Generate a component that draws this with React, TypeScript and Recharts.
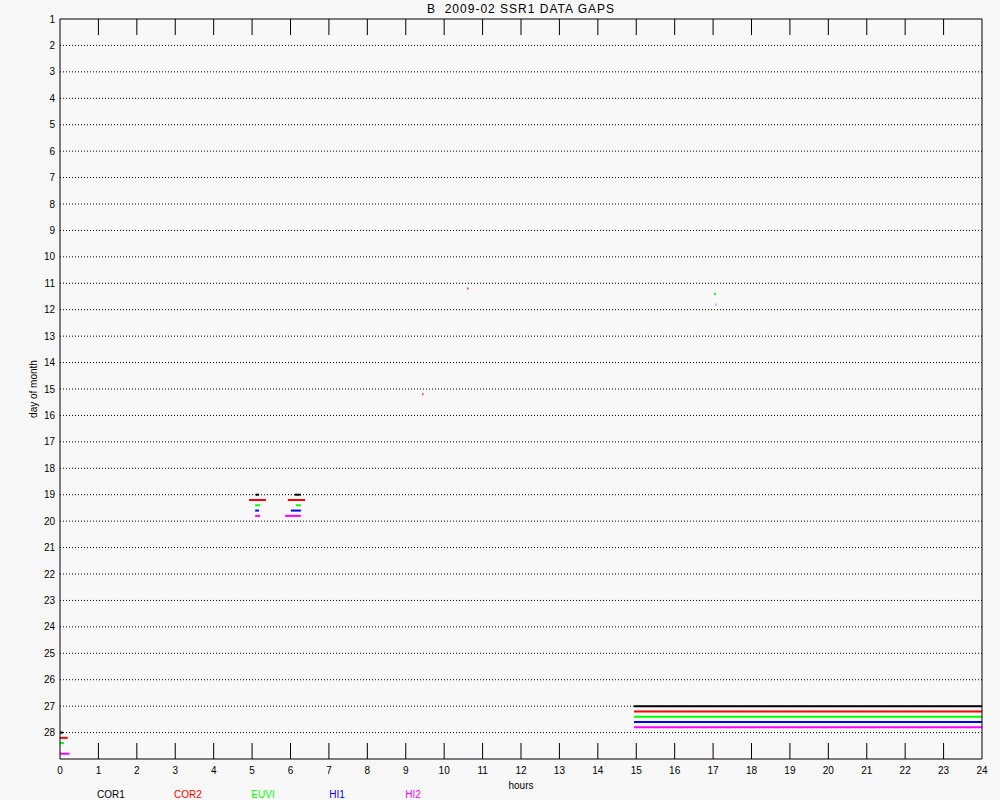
import React from "react";
import {
  LineChart,
  Line,
  XAxis,
  YAxis,
  CartesianGrid,
} from "recharts";

const instruments = ["COR1", "COR2", "EUVI", "HI1", "HI2"];
const instrumentColors = ["#000000", "#ff0000", "#00ff00", "#0000ff", "#ff00ff"];
const legendCenters = [111, 188, 263, 337, 413];

const hourTicks = Array.from({ length: 25 }, (_, i) => i);
const dayTicks = Array.from({ length: 28 }, (_, i) => i + 1);

// gaps per instrument: [day, start hour, end hour]
const cor1Gaps = [
  [19, 5.1, 5.18],
  [19, 6.11, 6.27],
  [27, 14.94, 24],
  [28, 0, 0.08],
];
const cor2Gaps = [
  [11, 10.6, 10.63],
  [15, 9.43, 9.46],
  [19, 4.92, 5.36],
  [19, 5.93, 6.38],
  [27, 14.94, 24],
  [28, 0, 0.2],
];
const euviGaps = [
  [11, 17.02, 17.07],
  [19, 5.08, 5.21],
  [19, 6.14, 6.27],
  [27, 14.94, 24],
  [28, 0, 0.1],
];
const hi1Gaps = [
  [19, 5.08, 5.18],
  [19, 6.01, 6.27],
  [27, 14.94, 24],
];
const hi2Gaps = [
  [11, 17.06, 17.08],
  [19, 5.08, 5.21],
  [19, 5.86, 6.27],
  [27, 14.94, 24],
  [28, 0, 0.25],
];

const gapsByInstrument = [cor1Gaps, cor2Gaps, euviGaps, hi1Gaps, hi2Gaps];

const FONT = "'Liberation Sans', Arial, sans-serif";

function BottomTick(props: any) {
  const { x, y, payload } = props;
  const edge = payload.value === 0 || payload.value === 24;
  return (
    <g>
      {!edge && <line x1={x} x2={x} y1={y} y2={y - 16} stroke="#000" strokeWidth={1} />}
      <text x={x} y={y + 15} textAnchor="middle" fontSize={10} fontFamily={FONT} fill="#000">
        {payload.value}
      </text>
    </g>
  );
}

function TopTick(props: any) {
  const { x, y, payload } = props;
  if (payload.value === 0 || payload.value === 24) return <g />;
  return <line x1={x} x2={x} y1={y} y2={y + 16} stroke="#000" strokeWidth={1} />;
}

export default function App() {
  const series: { key: string; color: string; data: { hour: number; day: number }[] }[] = [];
  gapsByInstrument.forEach((gaps, idx) => {
    gaps.forEach((g, j) => {
      const dayPos = g[0] + idx * 0.2;
      series.push({
        key: `${instruments[idx]}-${j}`,
        color: instrumentColors[idx],
        data: [
          { hour: g[1], day: dayPos },
          { hour: g[2], day: dayPos },
        ],
      });
    });
  });

  return (
    <div style={{ position: "relative", width: 1000, height: 800, background: "#f8f8f8", fontFamily: FONT }}>
      <style>{`body{margin:0}`}</style>
      <div
        style={{
          position: "absolute",
          top: 2,
          left: 0,
          width: 1042,
          textAlign: "center",
          fontSize: 12,
          letterSpacing: 1,
          color: "#000",
        }}
      >
        B&nbsp;&nbsp;2009-02 SSR1 DATA GAPS
      </div>
      <LineChart
        width={1000}
        height={800}
        margin={{ top: 18, right: 17, bottom: 0, left: 0 }}
        style={{ position: "absolute", top: 0, left: 0 }}
      >
        <CartesianGrid
          xAxisId="bottom"
          yAxisId="left"
          vertical={false}
          horizontalValues={dayTicks.slice(1)}
          stroke="#000"
          strokeDasharray="1 2"
          strokeWidth={1}
        />
        <XAxis
          xAxisId="bottom"
          dataKey="hour"
          type="number"
          domain={[0, 24]}
          ticks={hourTicks}
          interval={0}
          orientation="bottom"
          height={41}
          tickSize={0}
          tickMargin={0}
          tickLine={false}
          axisLine={{ stroke: "#000", strokeWidth: 1 }}
          tick={<BottomTick />}
          label={{ value: "hours", position: "insideBottom", offset: 11, fontSize: 10, fill: "#000", fontFamily: FONT }}
        />
        <XAxis
          xAxisId="top"
          dataKey="hour"
          type="number"
          domain={[0, 24]}
          ticks={hourTicks}
          interval={0}
          orientation="top"
          height={1}
          tickSize={0}
          tickMargin={0}
          tickLine={false}
          axisLine={{ stroke: "#000", strokeWidth: 1 }}
          tick={<TopTick />}
        />
        <YAxis
          yAxisId="left"
          dataKey="day"
          type="number"
          domain={[1, 29]}
          reversed
          ticks={dayTicks}
          interval={0}
          width={60}
          tickLine={false}
          tickSize={0}
          tickMargin={5}
          axisLine={{ stroke: "#000", strokeWidth: 1 }}
          tick={{ fontSize: 10, fill: "#000", fontFamily: FONT }}
          label={{
            value: "day of month",
            angle: -90,
            position: "center",
            dx: 3,
            fontSize: 10,
            fill: "#000",
            fontFamily: FONT,
          }}
        />
        <YAxis
          yAxisId="right"
          orientation="right"
          dataKey="day"
          type="number"
          domain={[1, 29]}
          reversed
          width={1}
          ticks={[]}
          tick={false}
          tickLine={false}
          axisLine={{ stroke: "#000", strokeWidth: 1 }}
        />
        {series.map((s) => (
          <Line
            key={s.key}
            xAxisId="bottom"
            yAxisId="left"
            data={s.data}
            dataKey="day"
            stroke={s.color}
            strokeWidth={2}
            strokeLinecap="butt"
            dot={false}
            activeDot={false}
            isAnimationActive={false}
          />
        ))}
        {/* same gaps on the top/right axes so the frame axes get drawn */}
        <Line
          xAxisId="top"
          yAxisId="right"
          data={series[series.length - 1].data}
          dataKey="day"
          stroke="none"
          dot={false}
          activeDot={false}
          isAnimationActive={false}
        />
      </LineChart>
      {instruments.map((name, i) => (
        <div
          key={name}
          style={{
            position: "absolute",
            top: 789,
            left: legendCenters[i] - 30,
            width: 60,
            textAlign: "center",
            fontSize: 10,
            color: instrumentColors[i],
          }}
        >
          {name}
        </div>
      ))}
    </div>
  );
}
